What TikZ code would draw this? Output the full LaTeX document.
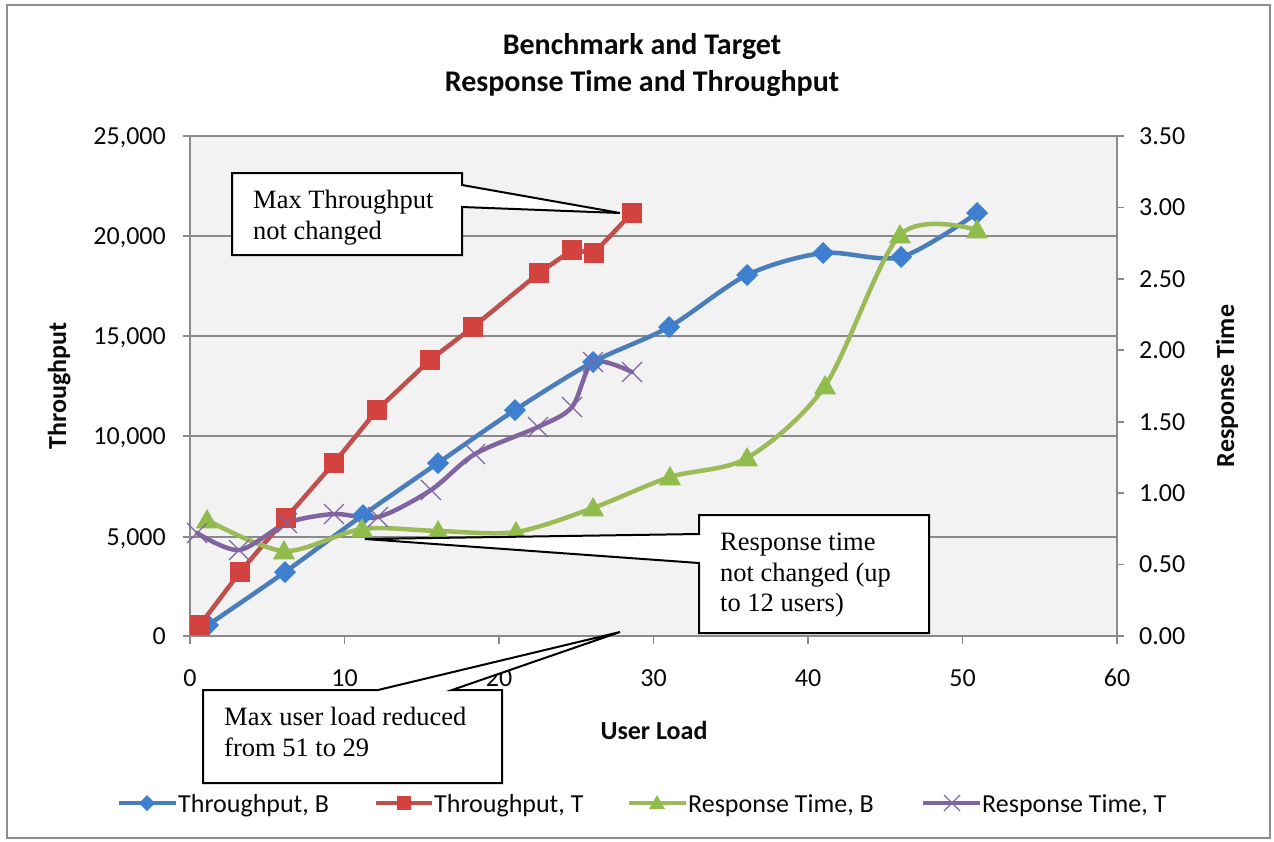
\documentclass[tikz,border=0pt]{standalone}
\usepackage{fontspec}
\setmainfont{Carlito}
\newfontfamily\calloutfont{Liberation Serif}
\usetikzlibrary{calc}
\definecolor{bluec}{HTML}{4A7EBB}
\definecolor{bluem}{HTML}{3F7FCF}
\definecolor{redc}{HTML}{C0504D}
\definecolor{redm}{HTML}{D2433F}
\definecolor{greenc}{HTML}{9BBB59}
\definecolor{greenm}{HTML}{8FBC4A}
\definecolor{purplec}{HTML}{8064A2}
\definecolor{gridc}{HTML}{8A8A8A}
\definecolor{plotbg}{HTML}{F2F2F2}
\definecolor{framec}{HTML}{8E8E8E}
\definecolor{textc}{HTML}{0A0A0A}
\newcommand\mkdia[2]{\fill[bluem] (#1) +(-#2,0) -- +(0,-#2) -- +(#2,0) -- +(0,#2) -- cycle;}
\newcommand\mksq[2]{\fill[redm] (#1) +(-#2,-#2) rectangle +(#2,#2);}
\newcommand\mktri[2]{\fill[greenm] (#1) +(0,-#2) -- +(#2,0.75*#2) -- +(-#2,0.75*#2) -- cycle;}
\newcommand\mkx[2]{\draw[purplec, line width=1.2] (#1) +(-#2,-#2) -- +(#2,#2) +(-#2,#2) -- +(#2,-#2);}
\begin{document}
\begin{tikzpicture}[x=1pt,y=-1pt,
  gridline/.style={gridc, line width=1.8},
  axisline/.style={gridc, line width=1.8},
  ticklabel/.style={inner sep=0, text=textc, font=\fontsize{26}{30}\selectfont},
  titletext/.style={inner sep=0, text=textc, font=\fontsize{30}{36}\selectfont\bfseries},
  axtitle/.style={inner sep=0, text=textc, font=\fontsize{26}{30}\selectfont\bfseries},
  legtext/.style={inner sep=0, text=textc, font=\fontsize{26}{30}\selectfont},
  series/.style={line width=4.5, line join=round, line cap=round},
  callout/.style={fill=white, draw=black, line width=2},
  callouttext/.style={inner sep=0, text=black, font=\calloutfont\fontsize{26.5}{31}\selectfont}]
\useasboundingbox (0,0) rectangle (1274,841);
\fill[white] (0,0) rectangle (1274,841);
\draw[framec, line width=1.5] (7,5) rectangle (1270,838);
% plot area
\fill[plotbg] (190,136) rectangle (1117,636);
\foreach \y in {136,236,336,436,537} \draw[gridline] (190,\y) -- (1117,\y);
\draw[axisline] (190,136) -- (190,636) -- (1117,636) -- (1117,136);
\foreach \y in {136,236,336,436,537,636} \draw[axisline] (183,\y) -- (190,\y);
\foreach \i in {0,...,6} \draw[axisline] ({190+154.5*\i},636) -- ++(0,8);
\foreach \i in {0,...,7} \draw[axisline] (1117,{636-71.43*\i}) -- ++(7,0);
% tick labels
\foreach \v/\y [count=\k] in {0/636,{5,000}/537,{10,000}/436,{15,000}/336,{20,000}/236,{25,000}/136}
  \node (yl\k) [ticklabel, anchor=base east] at (166,\y+8.3) {\v};
\foreach \v [count=\k from 0] in {0,10,20,30,40,50,60}
  \node (xl\k) [ticklabel, anchor=base] at ({190+154.5*\k},686) {\v};
\foreach \v [count=\k from 0] in {0.00,0.50,1.00,1.50,2.00,2.50,3.00,3.50}
  \node (yr\k) [ticklabel, anchor=base west] at (1139,{636-71.43*\k+8.3}) {\v};
% titles
\node (title1) [titletext, anchor=base] at (642,54) {Benchmark and Target};
\node (title2) [titletext, anchor=base] at (642,91) {Response Time and Throughput};
\node (ytitle) [axtitle, rotate=90, anchor=base] at (66,386) {Throughput};
\node (rtitle) [axtitle, rotate=90, anchor=base] at (1234,386) {Response Time};
\node (xtitle) [axtitle, anchor=base] at (654,739) {User Load};
% series: Throughput, B
\draw[series, bluec] plot[smooth] coordinates {(208,625) (285,572) (363,515) (438,463) (515,410) (593,362) (669,327) (747,275) (823,253) (901,257) (977,213)};
% Throughput, T
\draw[series, redc] (200,625) -- (240,572) -- (286,518) -- (334,463) -- (377,410) -- (430,360) -- (473,327) -- (539,273) -- (572,250) -- (594,253) -- (632,213);
% Response Time, B
\draw[series, greenc] plot[smooth] coordinates {(207,520) (284,551) (362,529) (438,531) (516,532) (593,508) (670,477) (747,458) (825,386) (900,235) (977,230)};
% Response Time, T
\draw[series, purplec] plot[smooth] coordinates {(197,533) (239,550) (287,523) (334,514) (378,517) (431,490) (475,454) (538,427) (572,407) (593,362) (632,372)};
% markers
\foreach \px/\py in {208/625,285/572,363/515,438/463,515/410,593/362,669/327,747/275,823/253,901/257,977/213} {\mkdia{\px,\py}{11}}
\foreach \px/\py in {200/625,240/572,286/518,334/463,377/410,430/360,473/327,539/273,572/250,594/253,632/213} {\mksq{\px,\py}{10}}
\foreach \px/\py in {207/520,284/551,362/529,438/531,516/532,593/508,670/477,747/458,825/386,900/235,977/230} {\mktri{\px,\py}{11}}
\foreach \px/\py in {197/533,239/550,287/523,334/514,378/517,431/490,475/454,538/427,572/407,593/362,632/372} {\mkx{\px,\py}{10}}
% callouts
\coordinate (tip1) at (620,213);
\coordinate (tip2) at (365,539);
\coordinate (tip3) at (620,632);
\draw[callout] (232,173) -- (462,173) -- (462,185) -- (tip1) -- (462,207) -- (462,255) -- (232,255) -- cycle;
\node (c1a) [callouttext, anchor=base west] at (253,208) {Max Throughput};
\node (c1b) [callouttext, anchor=base west] at (253,239) {not changed};
\draw[callout] (699,515) -- (929,515) -- (929,633) -- (699,633) -- (699,563) -- (tip2) -- (699,534) -- cycle;
\node (c2a) [callouttext, anchor=base west] at (720,550) {Response time};
\node (c2b) [callouttext, anchor=base west] at (720,581) {not changed (up};
\node (c2c) [callouttext, anchor=base west] at (720,611) {to 12 users)};
\draw[callout] (203,690) -- (378,690) -- (tip3) -- (452,690) -- (502,690) -- (502,783) -- (203,783) -- cycle;
\node (c3a) [callouttext, anchor=base west] at (224,725) {Max user load reduced};
\node (c3b) [callouttext, anchor=base west] at (224,756) {from 51 to 29};
% legend
\draw[series, bluec, line width=4, line cap=butt] (119,803) -- (176,803);
\mkdia{147,803}{8}
\node (lg1) [legtext, anchor=base west] at (178,812) {Throughput, B};
\draw[series, redc, line width=4, line cap=butt] (376,803) -- (432,803);
\mksq{404,803}{7}
\node (lg2) [legtext, anchor=base west] at (434,812) {Throughput, T};
\draw[series, greenc, line width=4, line cap=butt] (629,803) -- (686,803);
\mktri{657,803}{8}
\node (lg3) [legtext, anchor=base west] at (688,812) {Response Time, B};
\draw[series, purplec, line width=4, line cap=butt] (923,803) -- (980,803);
\mkx{952,803}{8}
\node (lg4) [legtext, anchor=base west] at (982,812) {Response Time, T};
\end{tikzpicture}
\end{document}
